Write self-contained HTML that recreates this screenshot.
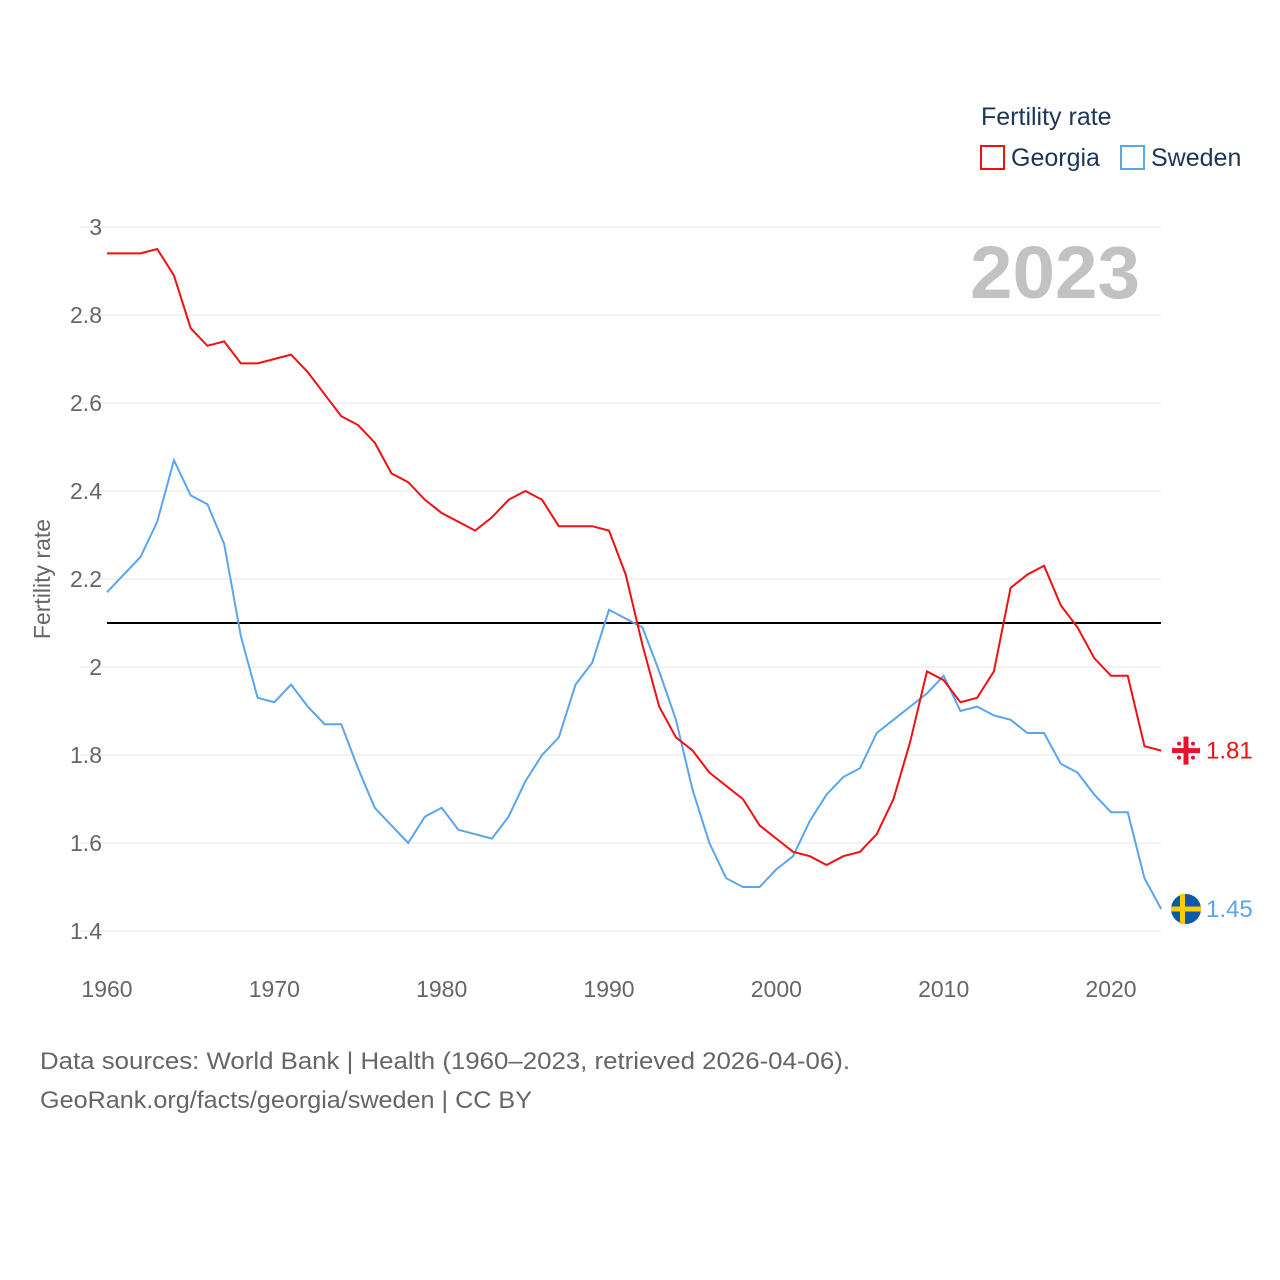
<!DOCTYPE html>
<html><head><meta charset="utf-8"><style>
body{margin:0;background:#fff;}
svg{display:block;font-family:"Liberation Sans",sans-serif;}
</style></head><body>
<svg id="chart" width="1280" height="1280">
<text x="981" y="125" font-size="25" fill="#1d3557">Fertility rate</text>
<g><rect x="981" y="146" width="23" height="23" fill="none" stroke="#ee1111" stroke-width="2"/><text x="1011" y="166" font-size="25" fill="#1d3557">Georgia</text></g>
<g><rect x="1121" y="146" width="23" height="23" fill="none" stroke="#5aa5ec" stroke-width="2"/><text x="1151" y="166" font-size="25" fill="#1d3557">Sweden</text></g>
<text x="970" y="298" font-size="74" font-weight="bold" fill="#c2c2c2" textLength="170" lengthAdjust="spacingAndGlyphs">2023</text>
<text transform="translate(50,579) rotate(-90)" font-size="23" fill="#666" text-anchor="middle">Fertility rate</text>
<g id="grid"></g><g id="series"></g>
<text x="40" y="1069" font-size="24" fill="#666" textLength="810" lengthAdjust="spacingAndGlyphs">Data sources: World Bank | Health (1960–2023, retrieved 2026-04-06).</text>
<text x="40" y="1108" font-size="24" fill="#666" textLength="492" lengthAdjust="spacingAndGlyphs">GeoRank.org/facts/georgia/sweden | CC BY</text>
</svg>
<script>
const years=[];for(let y=1960;y<=2023;y++)years.push(y);
const georgia=[2.94,2.94,2.94,2.95,2.89,2.77,2.73,2.74,2.69,2.69,2.70,2.71,2.67,2.62,2.57,2.55,2.51,2.44,2.42,2.38,2.35,2.33,2.31,2.34,2.38,2.40,2.38,2.32,2.32,2.32,2.31,2.21,2.05,1.91,1.84,1.81,1.76,1.73,1.70,1.64,1.61,1.58,1.57,1.55,1.57,1.58,1.62,1.70,1.83,1.99,1.97,1.92,1.93,1.99,2.18,2.21,2.23,2.14,2.09,2.02,1.98,1.98,1.82,1.81];
const sweden=[2.17,2.21,2.25,2.33,2.47,2.39,2.37,2.28,2.07,1.93,1.92,1.96,1.91,1.87,1.87,1.77,1.68,1.64,1.60,1.66,1.68,1.63,1.62,1.61,1.66,1.74,1.80,1.84,1.96,2.01,2.13,2.11,2.09,1.99,1.88,1.72,1.60,1.52,1.50,1.50,1.54,1.57,1.65,1.71,1.75,1.77,1.85,1.88,1.91,1.94,1.98,1.90,1.91,1.89,1.88,1.85,1.85,1.78,1.76,1.71,1.67,1.67,1.52,1.45];
const yTicks=[1.4,1.6,1.8,2,2.2,2.4,2.6,2.8,3];
const xTicks=[1960,1970,1980,1990,2000,2010,2020];
const replacement=2.1;
const X=y=>107+(y-1960)*(1004/60);
const Y=v=>931-(v-1.4)*440;
const NS="http://www.w3.org/2000/svg";
function mk(t,a,p){const e=document.createElementNS(NS,t);for(const k in a)e.setAttribute(k,a[k]);p.appendChild(e);return e;}
const grid=document.getElementById('grid'),ser=document.getElementById('series');
yTicks.forEach(v=>{
 const l=mk('line',{x1:80,x2:1161,y1:Y(v),y2:Y(v),stroke:'#e6e6e6','stroke-width':1},grid);
 
 
 const t=mk('text',{x:102,y:Y(v)+8,'font-size':23,fill:'#666','text-anchor':'end'},grid);t.textContent=String(v);
 
 
});
xTicks.forEach(y=>{
 const t=mk('text',{x:X(y),y:997,'font-size':23,fill:'#666','text-anchor':'middle'},grid);t.textContent=y;
 
 
});
const rl=mk('line',{x1:107,x2:1161,y1:Y(replacement),y2:Y(replacement),stroke:'#000','stroke-width':2},grid);


function line(vals,col,name){
 const p=mk('polyline',{points:vals.map((v,i)=>X(years[i])+','+Y(v)).join(' '),fill:'none',stroke:col,'stroke-width':2},ser);
 
 
}
line(sweden,'#5aa5ec','sweden-line');
line(georgia,'#ee1111','georgia-line');
const gl=georgia[georgia.length-1],sl=sweden[sweden.length-1];
const gx=1186,gy=Y(gl);
const gf=mk('g',{},ser);


mk('circle',{cx:gx,cy:gy,r:14,fill:'#fff',stroke:'#eee'},gf);
mk('rect',{x:gx-14,y:gy-2.5,width:28,height:5,fill:'#e8112d'},gf);
mk('rect',{x:gx-2.5,y:gy-14,width:5,height:28,fill:'#e8112d'},gf);
[[-7,-7],[7,-7],[-7,7],[7,7]].forEach(([dx,dy])=>mk('circle',{cx:gx+dx,cy:gy+dy,r:2,fill:'#e8112d'},gf));
const sf=mk('g',{},ser);


const sy=Y(sl);
mk('circle',{cx:gx,cy:sy,r:15,fill:'#0a5aa8'},sf);
mk('rect',{x:gx-15,y:sy-2.5,width:30,height:5,fill:'#fecc02'},sf);
mk('rect',{x:gx-6,y:sy-15,width:5,height:30,fill:'#fecc02'},sf);
const gt=mk('text',{x:1206,y:gy+8,'font-size':24,fill:'#ee1111'},ser);gt.textContent=gl.toFixed(2);


const st=mk('text',{x:1206,y:sy+8,'font-size':24,fill:'#5aa5ec'},ser);st.textContent=sl.toFixed(2);


</script>
</body></html>
